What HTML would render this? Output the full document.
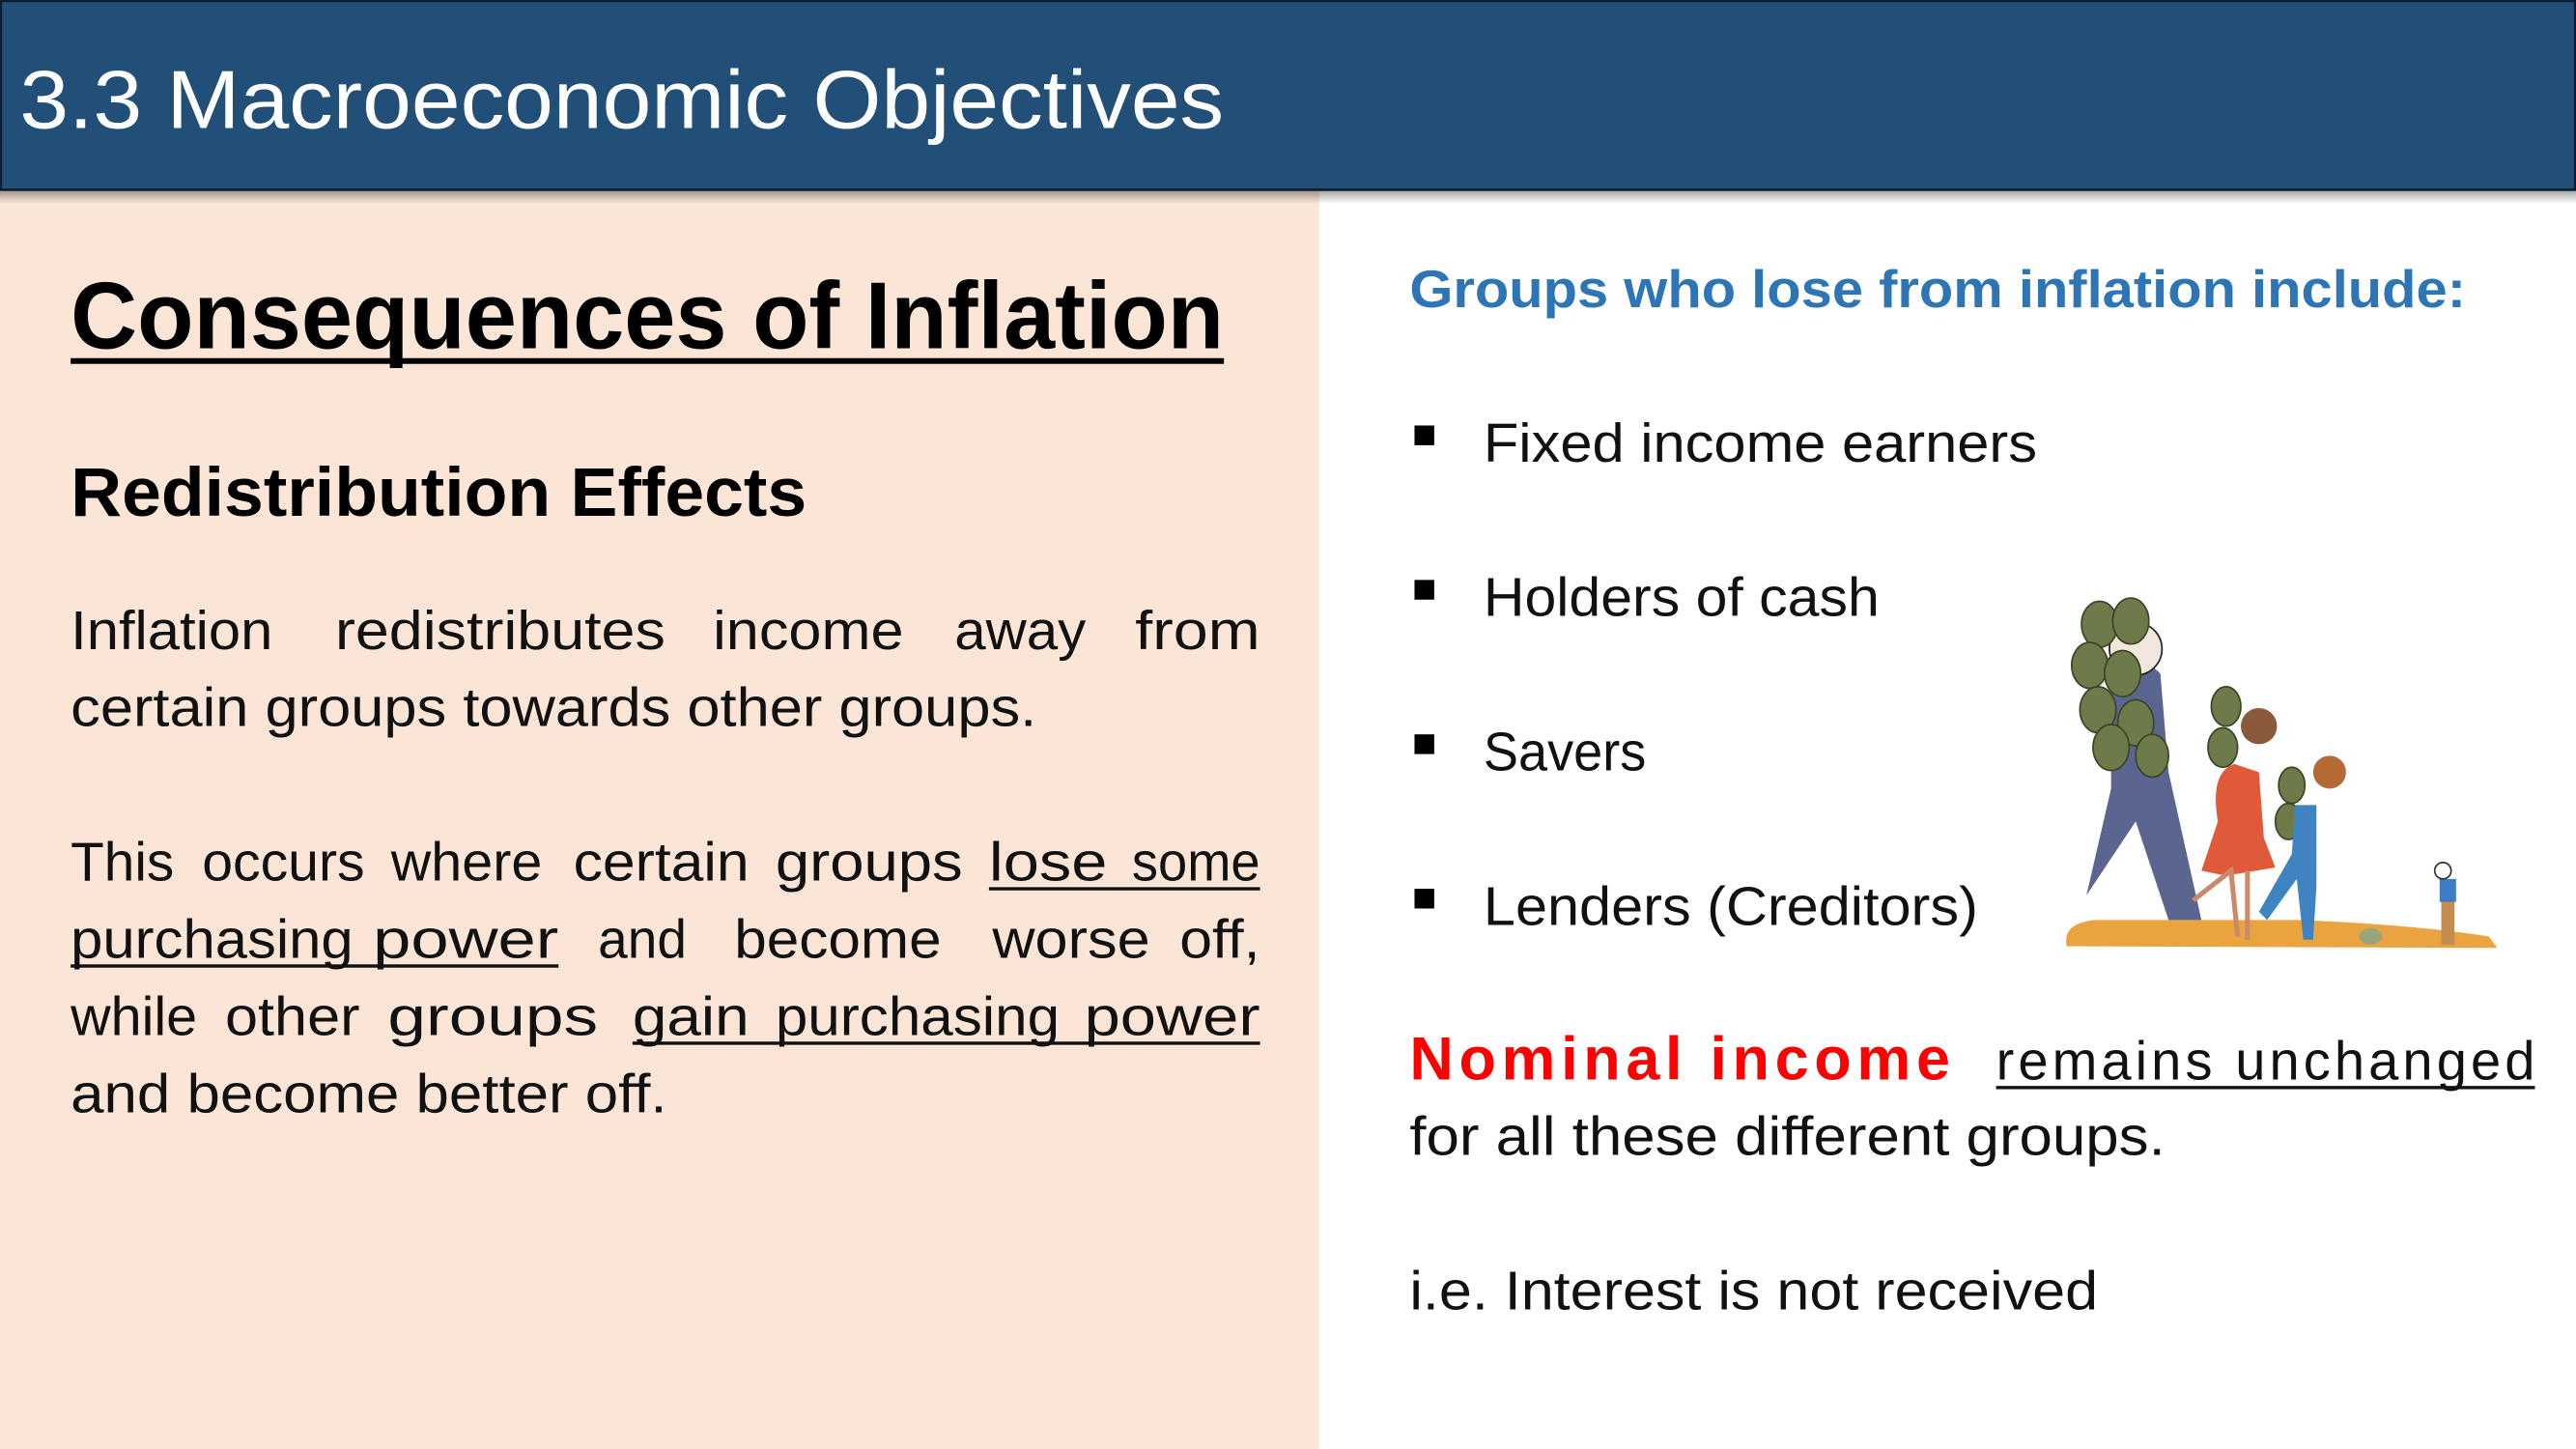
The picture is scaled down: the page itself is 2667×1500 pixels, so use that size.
<!DOCTYPE html>
<html><head><meta charset="utf-8"><style>
html,body{margin:0;padding:0;background:#fff;}
svg{display:block;}
text{font-family:"Liberation Sans",sans-serif;}
</style></head>
<body>
<svg width="2667" height="1500" viewBox="0 0 1568 882" preserveAspectRatio="none" xmlns="http://www.w3.org/2000/svg">
<defs>
<linearGradient id="sh" x1="0" y1="0" x2="0" y2="1"><stop offset="0" stop-color="#000" stop-opacity="0.35"/><stop offset="1" stop-color="#000" stop-opacity="0"/></linearGradient>
</defs>
<rect x="0" y="0" width="1568" height="882" fill="#ffffff"/>
<rect x="0" y="116" width="803" height="766" fill="#fae5d6"/>
<rect x="0" y="116" width="1568" height="8" fill="url(#sh)"/>
<rect x="0.5" y="0.5" width="1567" height="115" fill="#214f78" stroke="#0d1c2c" stroke-width="1.5"/>
<text x="12" y="78" font-size="50" fill="#ffffff" textLength="733" lengthAdjust="spacingAndGlyphs">3.3 Macroeconomic Objectives</text>

<text x="43" y="212" font-size="58" font-weight="bold" fill="#000" textLength="702" lengthAdjust="spacingAndGlyphs">Consequences of Inflation</text>
<rect x="43" y="218" width="702" height="3.5" fill="#000"/>
<text x="43" y="314" font-size="42" font-weight="bold" fill="#000" textLength="448" lengthAdjust="spacingAndGlyphs">Redistribution Effects</text>

<g font-size="33" fill="#111">
<text x="43" y="395" textLength="123" lengthAdjust="spacingAndGlyphs">Inflation</text>
<text x="204" y="395" textLength="201" lengthAdjust="spacingAndGlyphs">redistributes</text>
<text x="434" y="395" textLength="116" lengthAdjust="spacingAndGlyphs">income</text>
<text x="581" y="395" textLength="80" lengthAdjust="spacingAndGlyphs">away</text>
<text x="691" y="395" textLength="76" lengthAdjust="spacingAndGlyphs">from</text>
<text x="43" y="442" textLength="588" lengthAdjust="spacingAndGlyphs">certain groups towards other groups.</text>

<text x="43" y="536" textLength="63" lengthAdjust="spacingAndGlyphs">This</text>
<text x="123" y="536" textLength="99" lengthAdjust="spacingAndGlyphs">occurs</text>
<text x="238" y="536" textLength="92" lengthAdjust="spacingAndGlyphs">where</text>
<text x="349" y="536" textLength="107" lengthAdjust="spacingAndGlyphs">certain</text>
<text x="472" y="536" textLength="114" lengthAdjust="spacingAndGlyphs">groups</text>
<text x="602" y="536" textLength="72" lengthAdjust="spacingAndGlyphs">lose</text>
<text x="689" y="536" textLength="78" lengthAdjust="spacingAndGlyphs">some</text>
<rect x="602" y="540" width="165" height="2" fill="#111"/>

<text x="43" y="583" textLength="172" lengthAdjust="spacingAndGlyphs">purchasing</text>
<text x="227" y="583" textLength="113" lengthAdjust="spacingAndGlyphs">power</text>
<rect x="43" y="587" width="297" height="2" fill="#111"/>
<text x="364" y="583" textLength="54" lengthAdjust="spacingAndGlyphs">and</text>
<text x="447" y="583" textLength="126" lengthAdjust="spacingAndGlyphs">become</text>
<text x="604" y="583" textLength="96" lengthAdjust="spacingAndGlyphs">worse</text>
<text x="718" y="583" textLength="49" lengthAdjust="spacingAndGlyphs">off,</text>

<text x="43" y="630" textLength="77" lengthAdjust="spacingAndGlyphs">while</text>
<text x="137" y="630" textLength="82" lengthAdjust="spacingAndGlyphs">other</text>
<text x="236" y="630" textLength="128" lengthAdjust="spacingAndGlyphs">groups</text>
<text x="385" y="630" textLength="71" lengthAdjust="spacingAndGlyphs">gain</text>
<text x="472" y="630" textLength="173" lengthAdjust="spacingAndGlyphs">purchasing</text>
<text x="660" y="630" textLength="107" lengthAdjust="spacingAndGlyphs">power</text>
<rect x="385" y="634" width="382" height="2" fill="#111"/>
<text x="43" y="677" textLength="363" lengthAdjust="spacingAndGlyphs">and become better off.</text>
</g>

<text x="858" y="187" font-size="32" font-weight="bold" fill="#2e75b6" textLength="643" lengthAdjust="spacingAndGlyphs">Groups who lose from inflation include:</text>

<g font-size="33" fill="#111">
<rect x="861" y="259" width="12" height="12" fill="#000"/>
<text x="903" y="281" textLength="337" lengthAdjust="spacingAndGlyphs">Fixed income earners</text>
<rect x="861" y="353" width="12" height="12" fill="#000"/>
<text x="903" y="375" textLength="241" lengthAdjust="spacingAndGlyphs">Holders of cash</text>
<rect x="861" y="447" width="12" height="12" fill="#000"/>
<text x="903" y="469" textLength="99" lengthAdjust="spacingAndGlyphs">Savers</text>
<rect x="861" y="541" width="12" height="12" fill="#000"/>
<text x="903" y="563" textLength="301" lengthAdjust="spacingAndGlyphs">Lenders (Creditors)</text>
</g>

<text x="858" y="657" font-size="37" font-weight="bold" fill="#ff0000" textLength="329" lengthAdjust="spacing">Nominal  income</text>
<text x="1215" y="657" font-size="33" fill="#111" textLength="328" lengthAdjust="spacing">remains  unchanged</text>
<rect x="1215" y="661" width="328" height="2" fill="#111"/>
<text x="858" y="703" font-size="33" fill="#111" textLength="460" lengthAdjust="spacingAndGlyphs">for all these different groups.</text>
<text x="858" y="797" font-size="33" fill="#111" textLength="419" lengthAdjust="spacingAndGlyphs">i.e. Interest is not received</text>

<g>
<path d="M1258 576 Q1255 562 1275 560 L1400 560 Q1470 563 1515 570 L1520 577 Z" fill="#e9a43f"/>
<path d="M1270 545 L1300 500 L1320 560 L1340 560 L1320 470 L1315 410 Q1300 395 1285 410 L1285 480 Z" fill="#5a6690"/>
<circle cx="1300" cy="395" r="16" fill="#f2e7dc" stroke="#222" stroke-width="1"/>
<g fill="#6d7a4a" stroke="#3d4328" stroke-width="1">
<ellipse cx="1278" cy="380" rx="11" ry="14"/><ellipse cx="1297" cy="378" rx="11" ry="14"/>
<ellipse cx="1272" cy="405" rx="11" ry="14"/><ellipse cx="1292" cy="410" rx="11" ry="14"/>
<ellipse cx="1277" cy="432" rx="11" ry="14"/><ellipse cx="1300" cy="440" rx="11" ry="14"/>
<ellipse cx="1285" cy="455" rx="11" ry="14"/><ellipse cx="1310" cy="460" rx="10" ry="13"/>
<ellipse cx="1355" cy="430" rx="9" ry="12"/><ellipse cx="1353" cy="455" rx="9" ry="12"/>
<ellipse cx="1395" cy="478" rx="8" ry="11"/><ellipse cx="1393" cy="500" rx="8" ry="11"/>
</g>
<path d="M1340 530 L1350 500 Q1345 470 1360 465 L1375 470 L1378 510 L1385 528 L1355 533 Z" fill="#e05a3a"/>
<path d="M1335 548 L1358 530 L1362 570 M1368 530 L1368 572" stroke="#c98a6b" stroke-width="3" fill="none"/>
<circle cx="1375" cy="442" r="11" fill="#8a5a3a"/>
<path d="M1375 555 L1395 520 L1397 490 L1410 490 L1410 540 L1408 572 L1402 572 L1398 535 L1380 560 Z" fill="#3f84c0"/>
<circle cx="1418" cy="470" r="10" fill="#b36a35"/>
<path d="M1486 545 L1486 575 L1494 575 L1494 545 Z" fill="#c58c4f"/>
<rect x="1485" y="535" width="10" height="14" fill="#3f7cc8"/>
<circle cx="1487" cy="530" r="5" fill="#fff" stroke="#333" stroke-width="1"/>
<ellipse cx="1443" cy="570" rx="7" ry="5" fill="#9aa47a"/>
</g>
</svg>
</body></html>
